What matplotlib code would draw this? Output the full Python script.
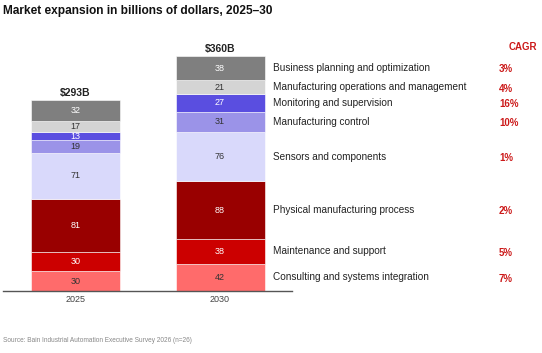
import matplotlib.pyplot as plt

# stacked from bottom to top
segments = ["Consulting and systems integration", "Maintenance and support",
            "Physical manufacturing process", "Sensors and components",
            "Manufacturing control", "Monitoring and supervision",
            "Manufacturing operations and management", "Business planning and optimization"]
years = ["2025", "2030"]
values_2025 = [30, 30, 81, 71, 19, 13, 17, 32]
values_2030 = [42, 38, 88, 76, 31, 27, 21, 38]
totals = ["$293B", "$360B"]
cagr = ["7%", "5%", "2%", "1%", "10%", "16%", "4%", "3%"]

colors = ["#ff6b6b", "#cc0000", "#990000", "#d9d9fb",
          "#9b93e8", "#5a4ee0", "#d4d4d4", "#7f7f7f"]
text_colors = ["#333333", "white", "white", "#333333",
               "#333333", "white", "#333333", "white"]

plt.rcParams['font.family'] = ['Liberation Sans', 'DejaVu Sans']

fig = plt.figure(figsize=(5.42, 3.53), dpi=100)
ax = fig.add_axes([3/542, 62/353, 289/542, 251/353])
ax.set_xlim(-0.502, 1.498)
ax.set_ylim(0, 385)

width = 0.616
for i, vals in enumerate([values_2025, values_2030]):
    bottom = 0
    for v, c, tc in zip(vals, colors, text_colors):
        ax.bar(i, v, width, bottom=bottom, color=c, edgecolor="white", linewidth=0.4)
        ax.text(i, bottom + v / 2, str(v), ha="center", va="center", fontsize=6.5, color=tc)
        bottom += v
    ax.text(i, bottom + 3, totals[i], ha="center", va="bottom", fontsize=7.5,
            fontweight="bold", color="#222222")

# labels and CAGR beside the 2030 bar
bottom = 0
for v, name, g in zip(values_2030, segments, cagr):
    y = bottom + v / 2
    ax.text(1.367, y, name, ha="left", va="center", fontsize=7.2, color="#222222", clip_on=False)
    ax.text(2.93, y - 2, g, ha="left", va="center", fontsize=7, fontweight="bold",
            color="#cc1a1a", clip_on=False)
    bottom += v
ax.text(2.997, 375, "CAGR", ha="left", va="center", fontsize=7, fontweight="bold",
        color="#cc1a1a", clip_on=False)

ax.set_xticks([0, 1])
ax.set_xticklabels(years, fontsize=6.5, color="#444444")
ax.tick_params(axis="x", length=0, pad=3)
ax.set_yticks([])
for s in ["top", "right", "left"]:
    ax.spines[s].set_visible(False)
ax.spines["bottom"].set_color("#555555")
ax.spines["bottom"].set_linewidth(1)

fig.text(3/542, 1 - 11/353, "Market expansion in billions of dollars, 2025–30", ha="left",
         va="center", fontsize=8.6, fontweight="bold", color="#111111")
fig.text(3/542, 1 - 340/353, "Source: Bain Industrial Automation Executive Survey 2026 (n=26)",
         ha="left", va="center", fontsize=4.7, color="#888888")

fig.savefig("out.png", dpi=100)
